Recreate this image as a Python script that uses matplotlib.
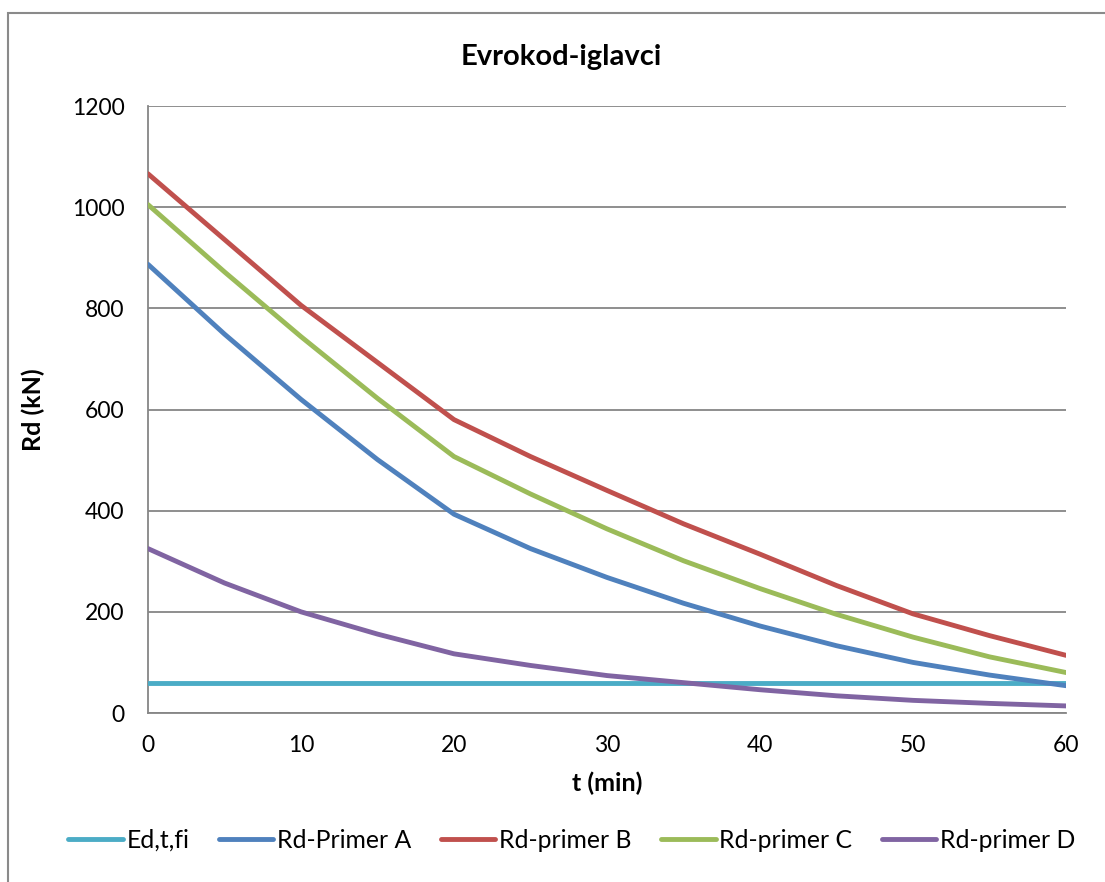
import numpy as np
import matplotlib
matplotlib.use('Agg')
import matplotlib.pyplot as plt
from matplotlib.patches import Rectangle

# fire exposure time (min) and design resistance per column type (kN)
t_min = [0, 5, 10, 15, 20, 25, 30, 35, 40, 45, 50, 55, 60]
ed_t_fi = [59, 59, 59, 59, 59, 59, 59, 59, 59, 59, 59, 59, 59]
rd_a = [887, 749, 620, 501, 393, 325, 268, 217, 172, 133, 100, 75, 54]
rd_b = [1066, 936, 806, 693, 580, 507, 440, 374, 314, 252, 196, 153, 114]
rd_c = [1005, 872, 744, 622, 507, 433, 364, 301, 246, 195, 150, 111, 80]
rd_d = [325, 257, 200, 156, 117, 94, 74, 60, 46, 34, 25, 19, 14]

series = [
    ("Ed,t,fi", ed_t_fi, "#4BACC6"),
    ("Rd-Primer A", rd_a, "#4F81BD"),
    ("Rd-primer B", rd_b, "#C0504D"),
    ("Rd-primer C", rd_c, "#9BBB59"),
    ("Rd-primer D", rd_d, "#8064A2"),
]

plt.rcParams['font.family'] = ['Lato', 'DejaVu Sans']
W, H = 1105, 882
fig = plt.figure(figsize=(W / 100, H / 100), dpi=100)
ax = fig.add_axes([148 / W, 1 - 713 / H, (1066 - 148) / W, (713 - 106) / H])

for name, vals, color in series:
    ax.plot(t_min, vals, color=color, lw=3.5, label=name,
            solid_capstyle='round', solid_joinstyle='round', zorder=3)

ax.set_xlim(0, 60)
ax.set_ylim(0, 1200)
ax.set_xticks(np.arange(0, 61, 10))
ax.set_yticks(np.arange(0, 1201, 200))
ax.grid(axis='y', color='#868686', lw=1.3)
ax.set_axisbelow(True)
for side in ['top', 'right']:
    ax.spines[side].set_visible(False)
for side in ['left', 'bottom']:
    ax.spines[side].set_color('#868686')
    ax.spines[side].set_linewidth(1.3)
ax.tick_params(axis='y', length=0, pad=17, labelsize=16.5)
ax.tick_params(axis='x', length=0, pad=16, labelsize=16.5)

ax.set_xlabel("t (min)", fontsize=18, fontweight='bold', labelpad=11)
ax.set_ylabel("Rd (kN)", fontsize=18, fontweight='bold', labelpad=19)
fig.text(561 / W, 1 - 57 / H, "Evrokod-iglavci", fontsize=21,
         fontweight='bold', ha='center', va='center')

fig.legend(loc='center', bbox_to_anchor=(572 / W, 1 - 840 / H), ncol=5,
           frameon=False, fontsize=17.8, handlelength=2.2,
           handletextpad=0.15, columnspacing=1.2)

# chart area border
fig.patches.append(Rectangle((8 / W, -0.1), 1.2, 1.1 - 13 / H,
                             transform=fig.transFigure, fill=False,
                             edgecolor='#8a8a8a', lw=1.5))

fig.savefig("out.png", dpi=100)
